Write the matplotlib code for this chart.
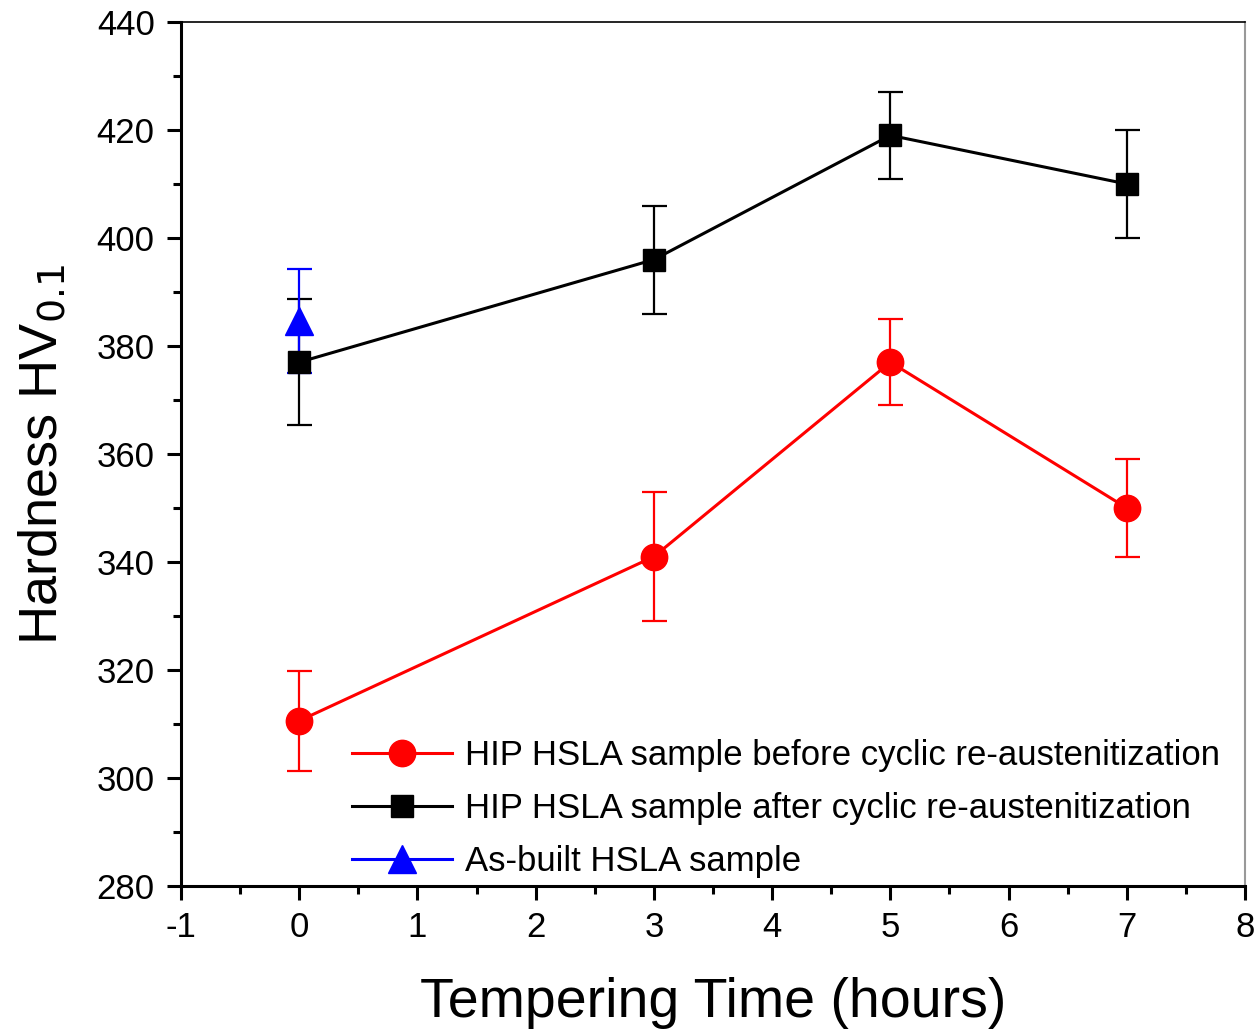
import matplotlib
matplotlib.use("Agg")
import matplotlib.pyplot as plt

plt.rcParams['font.family'] = ['Liberation Sans', 'DejaVu Sans']
plt.rcParams['axes.unicode_minus'] = False

# tempering time (hours)
t_before = [0, 3, 5, 7]
hv_before = [310.6, 341, 377, 350]
err_before = [9.3, 12, 8, 9]

t_after = [0, 3, 5, 7]
hv_after = [377, 396, 419, 410]
err_after = [11.7, 10, 8, 10]

t_asbuilt = [0]
hv_asbuilt = [384.6]
err_asbuilt = [9.6]

fig = plt.figure(figsize=(12.58, 10.31), dpi=100)
ax = fig.add_axes([0.1439, 0.1406, 0.8458, 0.8381])

c1 = ax.errorbar(t_before, hv_before, yerr=err_before, color='#ff0000', marker='o',
                 markersize=19, linewidth=2.2, elinewidth=1.6, capsize=9, capthick=1.6)
c2 = ax.errorbar(t_after, hv_after, yerr=err_after, color='black', marker='s',
                 markersize=16, linewidth=2.2, elinewidth=1.6, capsize=9, capthick=1.6)
c3 = ax.errorbar(t_asbuilt, hv_asbuilt, yerr=err_asbuilt, color='#0000ff', marker='^',
                 markersize=20, linewidth=2.2, elinewidth=1.6, capsize=9, capthick=1.6)

ax.set_xlim(-1, 8)
ax.set_ylim(280, 440)
ax.set_xticks(range(-1, 9))
ax.set_yticks(range(280, 441, 20))
ax.set_xticks([x + 0.5 for x in range(-1, 8)], minor=True)
ax.set_yticks(range(290, 440, 20), minor=True)
ax.tick_params(which='major', direction='out', length=10, width=2.2, labelsize=25,
               top=False, right=False)
ax.tick_params(axis='x', which='major', pad=8)
ax.tick_params(axis='y', which='major', pad=9)
ax.tick_params(which='minor', direction='out', length=6, width=2.2,
               top=False, right=False)

ax.spines['left'].set_linewidth(2.2)
ax.spines['bottom'].set_linewidth(2.2)
ax.spines['top'].set_linewidth(1.2)
ax.spines['right'].set_linewidth(1.5)
ax.spines['right'].set_color('#999999')

ax.set_xlabel('Tempering Time (hours)', fontsize=40, labelpad=24)
ax.set_ylabel('Hardness HV$_{0.1}$', fontsize=39, labelpad=20)

labels = ['HIP HSLA sample before cyclic re-austenitization',
          'HIP HSLA sample after cyclic re-austenitization',
          'As-built HSLA sample']
ax.legend([c1[0], c2[0], c3[0]], labels, loc='lower left',
          bbox_to_anchor=(0.131, -0.027), frameon=False,
          fontsize=25, handlelength=2.9, handletextpad=0.35, labelspacing=0.58)

fig.savefig('out.png', dpi=100)
